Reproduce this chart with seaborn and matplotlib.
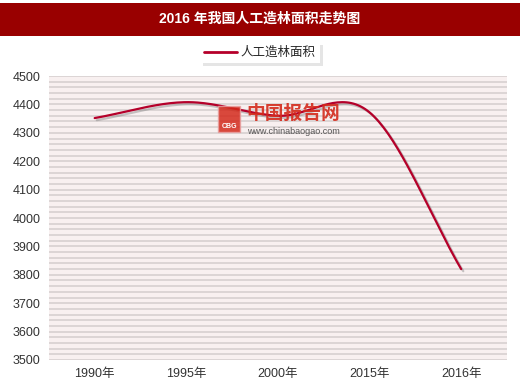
import numpy as np
import pandas as pd
import matplotlib
matplotlib.use("Agg")
import matplotlib.pyplot as plt
import matplotlib.patheffects as pe
from matplotlib.patches import Rectangle
from matplotlib.lines import Line2D
import seaborn as sns

categories = ["1990年", "1995年", "2000年", "2015年", "2016年"]
values = [4352, 4408, 4360, 4372, 3820]
series_name = "人工造林面积"
title = "2016 年我国人工造林面积走势图"
y_ticks = [3500, 3600, 3700, 3800, 3900, 4000, 4100, 4200, 4300, 4400, 4500]

sns.set_theme(style="white")
plt.rcParams["font.family"] = ["Liberation Sans", "Noto Sans CJK SC", "DejaVu Sans"]

LINE = "#b5002a"

# Catmull-Rom smoothing of the data for drawing
def smooth(xs, ys, n=40):
    xs = np.asarray(xs, float); ys = np.asarray(ys, float)
    px = np.concatenate([[2*xs[0]-xs[1]], xs, [2*xs[-1]-xs[-2]]])
    py = np.concatenate([[2*ys[0]-ys[1]], ys, [2*ys[-1]-ys[-2]]])
    ox, oy = [], []
    for i in range(1, len(px)-2):
        t = np.linspace(0, 1, n, endpoint=(i == len(px)-3))
        for arr, out in ((px, ox), (py, oy)):
            p0, p1, p2, p3 = arr[i-1], arr[i], arr[i+1], arr[i+2]
            out.extend(0.5*((2*p1) + (-p0+p2)*t + (2*p0-5*p1+4*p2-p3)*t**2 + (-p0+3*p1-3*p2+p3)*t**3))
    return np.array(ox), np.array(oy)

sx, sy = smooth(range(len(categories)), values)
df = pd.DataFrame({"x": sx, "y": sy, "s": series_name})

fig = plt.figure(figsize=(5.2, 3.9), dpi=100)
ax = fig.add_axes([0.094, 0.077, 0.881, 0.728])
ax.set_facecolor("#f8f0f0")

sns.lineplot(data=df, x="x", y="y", hue="s", palette=[LINE], ax=ax, linewidth=1.6,
             estimator=None, sort=False, legend=False, zorder=3,
             path_effects=[pe.SimpleLineShadow(offset=(1.5, -1.5), shadow_color="#777777", alpha=0.4),
                           pe.Normal()])

ax.set_xlim(-0.5, len(categories) - 0.5)
ax.set_ylim(3500, 4500)
ax.set_xticks(range(len(categories)))
ax.set_xticklabels(categories, fontsize=9, color="#333333")
ax.set_yticks(y_ticks)
ax.set_yticklabels([str(v) for v in y_ticks], fontsize=9, color="#333333")
ax.set_xlabel(""); ax.set_ylabel("")
for v in np.arange(3500, 4501, 20):
    ax.axhline(v, color="#d4cece", linewidth=1.1, zorder=0.5)
ax.tick_params(axis="both", length=0, pad=6)
for s in ax.spines.values():
    s.set_visible(False)

# Title bar
fig.patches.append(Rectangle((0, 1 - 36/390), 1, 33/390, transform=fig.transFigure,
                             facecolor="#990000", edgecolor="none", zorder=0))
fig.text(0.5, 1 - 19/390, title, ha="center", va="center", color="white",
         fontsize=10, fontweight="bold")

# Legend
handle = Line2D([], [], color=LINE, linewidth=2)
leg = fig.legend([handle], [series_name], loc="center", bbox_to_anchor=(0.5, 1 - 53/390),
                 frameon=True, fancybox=False, shadow={"color": "#cccccc", "alpha": 0.5},
                 fontsize=9, handlelength=2.6, handletextpad=0.3, borderpad=0.35)
leg.get_frame().set_linewidth(0)

# Watermark
fig.patches.append(Rectangle((218/520, 1 - 132/390), 22/520, 26/390, transform=fig.transFigure,
                             facecolor="#d42a1c", edgecolor="#e8a0a0", alpha=0.85, zorder=5))
fig.text(229/520, 1 - 126/390, "CBG", ha="center", va="center", color="white", fontsize=5,
         fontweight="bold", zorder=6)
fig.text(246/520, 1 - 114/390, "中国报告网", ha="left", va="center", color="#d42a1c",
         fontsize=13.5, fontweight="bold", alpha=0.9, zorder=6)
fig.text(247/520, 1 - 132/390, "www.chinabaogao.com", ha="left", va="center", color="#444444",
         fontsize=6.5, alpha=0.9, zorder=6)

fig.savefig("out.png", dpi=100)
